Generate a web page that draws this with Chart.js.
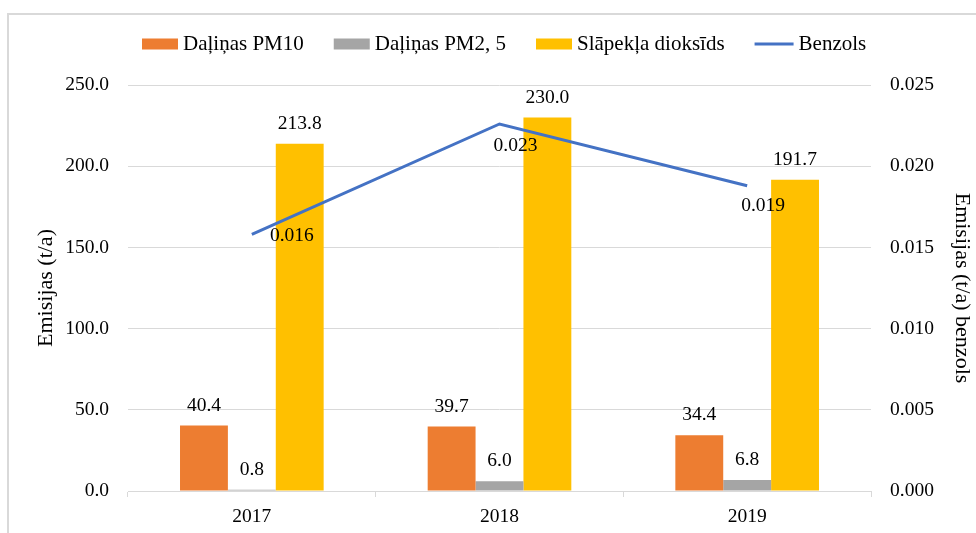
<!DOCTYPE html>
<html>
<head>
<meta charset="utf-8">
<script src="https://cdn.jsdelivr.net/npm/chart.js@4.4.0/dist/chart.umd.min.js"></script>
<style>
  html, body { margin: 0; padding: 0; background: #fff; }
</style>
</head>
<body>
<canvas id="emisijas" width="976" height="533"></canvas>
<script>
var years = ["2017", "2018", "2019"];
var pm10 = [40.4, 39.7, 34.4];
var pm25 = [0.8, 6.0, 6.8];
var no2 = [213.8, 230.0, 191.7];
var benzols = [0.0158, 0.0226, 0.0188];
var leftTicks = [0, 50, 100, 150, 200, 250];
var rightTicks = [0, 0.005, 0.01, 0.015, 0.02, 0.025];

var serif = "'Liberation Serif', 'Times New Roman', serif";
var gridGrey = "#D9D9D9";

// where the benzols value labels sit, relative to their point
var lineLabelShift = [[40, 1], [16, 22], [16, 20]];

// thin grey frame around the whole chart
var frame = {
  id: "frame",
  beforeDraw: function (chart) {
    var ctx = chart.ctx;
    ctx.save();
    ctx.strokeStyle = gridGrey;
    ctx.lineWidth = 2;
    ctx.beginPath();
    ctx.moveTo(8, 533);
    ctx.lineTo(8, 14);
    ctx.lineTo(976, 14);
    ctx.stroke();
    ctx.restore();
  }
};

// legend row: key box (or line) then label
var legendRow = {
  id: "legendRow",
  afterDraw: function (chart) {
    var ctx = chart.ctx;
    var x = 142, y = 44;
    ctx.save();
    ctx.font = "21px " + serif;
    ctx.textBaseline = "middle";
    ctx.textAlign = "left";
    chart.data.datasets.forEach(function (ds) {
      if (ds.type === "line") {
        ctx.strokeStyle = ds.borderColor;
        ctx.lineWidth = 3;
        ctx.beginPath();
        ctx.moveTo(x, y);
        ctx.lineTo(x + 39, y);
        ctx.stroke();
        x += 39;
      } else {
        ctx.fillStyle = ds.backgroundColor;
        ctx.fillRect(x, y - 5.5, 36, 11);
        x += 36;
      }
      x += 5;
      ctx.fillStyle = "#000";
      ctx.fillText(ds.label, x, y);
      x += ctx.measureText(ds.label).width + 30;
    });
    ctx.restore();
  }
};

// value labels over bars and next to line points
var valueLabels = {
  id: "valueLabels",
  afterDatasetsDraw: function (chart) {
    var ctx = chart.ctx;
    ctx.save();
    ctx.font = "19.5px " + serif;
    ctx.fillStyle = "#000";
    ctx.textAlign = "center";
    ctx.textBaseline = "middle";
    chart.data.datasets.forEach(function (ds, i) {
      var meta = chart.getDatasetMeta(i);
      meta.data.forEach(function (el, j) {
        var v = ds.data[j];
        if (ds.type === "line") {
          var s = lineLabelShift[j];
          ctx.fillText(v.toFixed(3), el.x + s[0], el.y + s[1]);
        } else {
          ctx.fillText(v.toFixed(1), el.x, el.y - 20);
        }
      });
    });
    ctx.restore();
  }
};

var ctx = document.getElementById("emisijas").getContext("2d");

var chart = new Chart(ctx, {
  type: "bar",
  data: {
    labels: years,
    datasets: [
      {
        label: "Daļiņas PM10",
        data: pm10,
        backgroundColor: "#ED7D31",
        yAxisID: "y",
        order: 1,
      },
      {
        label: "Daļiņas PM2, 5",
        data: pm25,
        backgroundColor: "#A5A5A5",
        yAxisID: "y",
        order: 1,
      },
      {
        label: "Slāpekļa dioksīds",
        data: no2,
        backgroundColor: "#FFC000",
        yAxisID: "y",
        order: 1,
      },
      {
        type: "line",
        label: "Benzols",
        data: benzols,
        borderColor: "#4472C4",
        backgroundColor: "#4472C4",
        borderWidth: 3,
        pointRadius: 0,
        tension: 0,
        yAxisID: "y1",
        order: 0,
      },
    ],
  },
  options: {
    responsive: false,
    animation: false,
    categoryPercentage: 0.58,
    barPercentage: 1,
    layout: { padding: { top: 85, left: 0, right: 0, bottom: 0 } },
    plugins: {
      legend: { display: false },
      tooltip: { enabled: false },
    },
    scales: {
      x: {
        offset: true,
        grid: {
          offset: true,
          drawOnChartArea: false,
          drawTicks: true,
          tickLength: 6,
          color: gridGrey,
        },
        border: { color: gridGrey },
        ticks: { color: "#000", font: { family: serif, size: 19.5 }, padding: 8 },
        afterFit: function (s) { s.height = 42; },
      },
      y: {
        position: "left",
        min: 0,
        max: 250,
        afterBuildTicks: function (s) {
          s.ticks = leftTicks.map(function (v) { return { value: v }; });
        },
        ticks: {
          color: "#000",
          font: { family: serif, size: 19.5 },
          padding: 19,
          callback: function (v) { return v.toFixed(1); },
        },
        grid: { color: gridGrey, drawTicks: false },
        border: { display: false },
        title: {
          display: true,
          text: "Emisijas (t/a)",
          color: "#000",
          font: { family: serif, size: 22 },
          padding: { top: 33, bottom: 0 },
        },
        afterFit: function (s) { s.width = 128; },
      },
      y1: {
        position: "right",
        min: 0,
        max: 0.025,
        afterBuildTicks: function (s) {
          s.ticks = rightTicks.map(function (v) { return { value: v }; });
        },
        ticks: {
          color: "#000",
          font: { family: serif, size: 19.5 },
          padding: 19,
          callback: function (v) { return v.toFixed(3); },
        },
        grid: { drawOnChartArea: false, drawTicks: false },
        border: { display: false },
        title: {
          display: true,
          text: "Emisijas (t/a) benzols",
          color: "#000",
          font: { family: serif, size: 22 },
          padding: { top: 1, bottom: 0 },
        },
        afterFit: function (s) { s.width = 105; },
      },
    },
  },
  plugins: [frame, legendRow, valueLabels],
});
</script>
</body>
</html>
